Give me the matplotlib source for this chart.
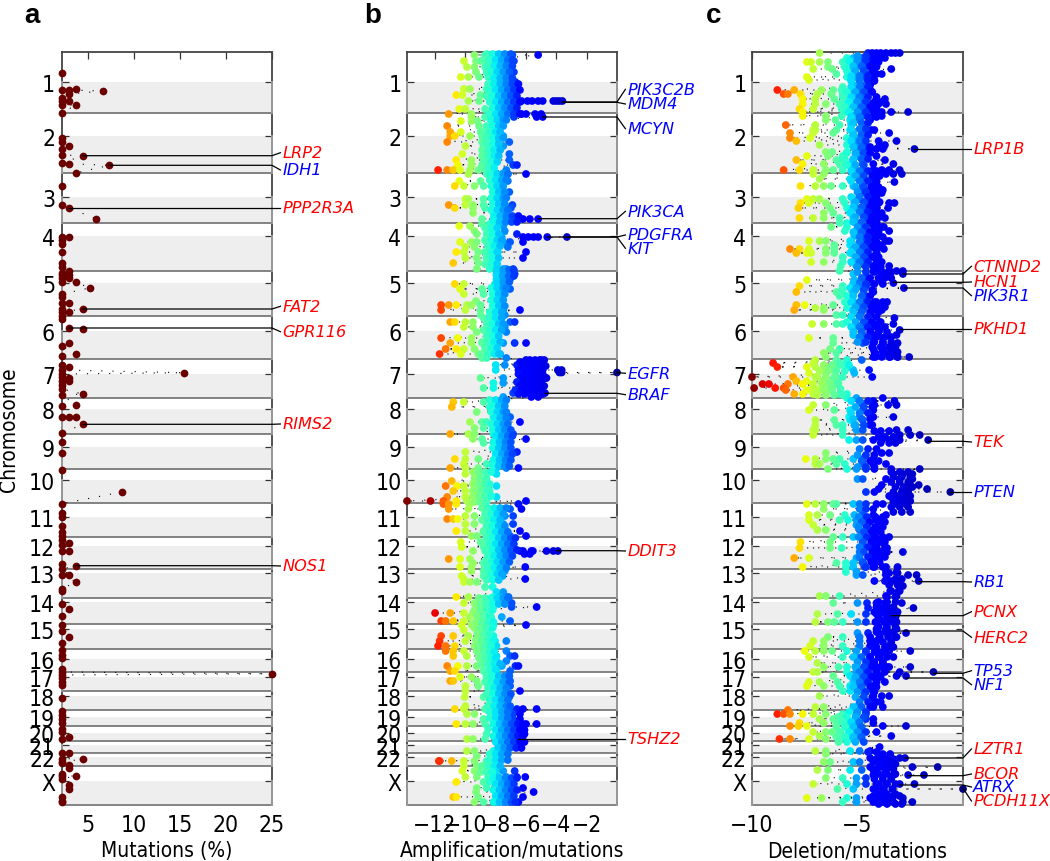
import matplotlib
matplotlib.use('Agg')
import matplotlib.pyplot as plt
import numpy as np

# chromosome layout, genome position on a scale running 53 to 806
chrom_labels = ['1', '2', '3', '4', '5', '6', '7', '8', '9', '10', '11', '12', '13', '14', '15',
                '16', '17', '18', '19', '20', '21', '22', 'X']
chrom_mid = [83, 137.3, 197.7, 237, 284, 332, 374.7, 410.3, 447.7, 480.7, 517.7, 546.7, 574.3,
             603.3, 629.7, 660, 678.3, 696.7, 718.3, 734, 745.7, 757.7, 781.7]
chrom_end = [114, 174.5, 224.3, 272.3, 317.3, 359.7, 399, 435.3, 470.3, 504.3, 537.7, 570.3, 599,
             625.3, 650.3, 672.7, 692.3, 711, 727, 742.3, 754.3, 766.7, 806]
pos_top, pos_bottom = 53, 806

# panel a: mutation frequency
mut_pos = [74, 91, 91, 90, 92, 95, 99, 102, 102, 106, 106, 114, 139, 143, 147, 150, 156, 156.7, 164, 164.7,
           166.3, 174, 187, 206, 209, 219.7, 238.3, 238.3, 241, 245, 253, 264, 268, 272, 274, 276, 276, 279,
           279, 283, 283, 289, 295, 298, 304, 304, 310, 310, 313, 313, 317, 320, 329, 330, 344, 347, 355,
           357, 366, 368, 371, 373.7, 375, 378, 379, 382, 382, 386, 390, 395, 396, 405.7, 407, 417.7, 417.7,
           417.7, 425.3, 434, 443, 454, 470.7, 493, 504.7, 514, 518, 527, 533, 537, 541, 544, 546, 552, 552,
           565, 566.7, 570, 575.7, 576, 582.7, 590, 592, 605, 609.7, 617, 625.7, 631.7, 637.7, 643.7, 651,
           656, 659, 670, 673, 674.7, 676, 679, 683, 686, 699, 712, 716, 720, 724, 730, 733, 737.7, 740,
           753.7, 754, 759.7, 760, 763, 764, 766, 769, 775, 777, 777, 779.7, 786, 790, 798, 802, 803]
mut_vals = [2.2, 2.2, 2.93, 3.7, 6.6, 2.93, 2.2, 2.2, 2.93, 2.2, 3.7, 2.2, 2.2, 2.2, 2.93, 2.2, 2.2, 4.46, 2.2, 2.93,
            7.35, 3.7, 2.2, 2.2, 2.93, 5.9, 2.2, 2.93, 2.2, 2.2, 2.2, 2.2, 2.2, 2.93, 2.2, 2.2, 2.93, 2.93,
            2.2, 2.2, 3.7, 5.2, 2.2, 2.2, 2.2, 2.93, 2.2, 4.46, 2.2, 2.93, 2.2, 2.2, 2.93, 4.46, 2.93, 2.2, 3.7,
            2.2, 2.2, 2.93, 2.2, 15.4, 2.2, 2.2, 2.93, 2.2, 2.93, 2.2, 2.2, 4.46, 2.2, 3.7, 2.2, 2.2, 2.93,
            3.7, 4.46, 2.2, 2.2, 2.2, 2.2, 8.7, 2.2, 2.2, 2.2, 2.2, 2.2, 2.2, 2.2, 2.93, 2.2, 2.2, 2.93,
            2.2, 3.7, 2.2, 2.93, 2.2, 3.7, 2.2, 2.2, 2.2, 2.93, 2.2, 2.2, 2.2, 2.93, 2.2, 2.2,
            2.2, 2.2, 2.2, 2.2, 25, 2.2, 2.2, 2.2, 2.2, 2.2, 2.2, 2.2, 2.2, 2.2, 2.2, 2.2, 2.93, 2.2,
            2.2, 2.93, 2.2, 4.46, 2.2, 2.2, 2.93, 2.93, 2.2, 2.2, 3.7, 2.2, 2.93, 2.93, 2.2, 2.2, 2.2]

# panel b: amplification/mutations, one list of values per genome position
amp_pos = [56, 62, 68, 73, 78, 83, 90, 96, 102, 110, 115, 118, 122, 127, 133, 137, 143, 147, 155, 161, 166, 171,
           175, 182, 187, 193, 200, 206, 209, 214, 220, 225, 227, 232, 235, 238, 243, 248, 253, 259, 264, 270,
           275, 280, 285, 290, 295, 302, 306, 311, 316, 323, 328, 333, 339, 344, 350, 355, 359, 361, 366, 371,
           373.5, 376, 379, 384, 389, 394, 398, 403, 408, 413, 418, 423, 429, 435, 440, 444, 453, 460, 465, 469,
           475, 482, 487, 492, 498, 502, 505, 510, 517, 520, 525, 532, 537, 543, 548, 552, 555, 560, 564, 568,
           572, 577, 580, 583, 588, 593, 598, 604, 608, 614, 618, 622, 626, 631, 637, 642, 647, 652, 657, 662,
           667, 672, 678, 682, 687, 692, 698, 707, 710, 715, 720, 725, 730, 735, 740, 745, 752, 757, 762, 767,
           772, 778, 783, 789, 793, 798, 803]
amp_vals = [
    [-9.4, -8.7, -8.3, -8, -7.7, -7.4, -7.1, -6.9, -5.2], [-10.1, -9.3, -9, -8.5, -8.1, -7.7, -7.4, -7, -6.8],
    [-9.9, -9.4, -8.7, -8.2, -7.9, -7.6, -7.2], [-9.3, -8.6, -8.1, -7.8, -7.4, -7.1, -6.8],
    [-10.3, -9.8, -9.1, -8.5, -8, -7.7, -7.4, -7], [-8.2, -8, -7.7, -7.4, -7, -6.7],
    [-10.1, -9.7, -8.6, -8.2, -7.9, -7.5, -7.2, -6.9, -6.5], [-10.6, -10.2, -9, -8.3, -8, -7.5, -7.1, -6.7],
    [-9.8, -9.1, -8.3, -7.5, -7.1, -6.6, -6.3, -5.9, -5.6, -5.2, -4.9, -4.2, -4, -3.8, -3.6],
    [-10.4, -10, -8.7, -8, -7.5, -6.9], [-11.1, -9.6, -8.3, -7.3, -6.9, -6.3, -6, -5.4, -5],
    [-9.6, -8.7, -8, -6.8, -5.3, -4.9], [-10.3, -9.6, -9.2, -8.3, -7.8], [-11.2, -9.1, -8.1, -7.6],
    [-11, -10.3, -9, -8], [-11, -10.7, -9.7, -8.9, -8, -7.5], [-11.2, -8.9, -8, -7.1], [-10, -8.8, -8.1, -7.5],
    [-10.2, -8.8, -8.05, -7.1], [-10.6, -9.6, -8.8, -7.95, -7.1], [-10.5, -9.6, -8.9, -8.15, -6.85, -6.6],
    [-11.8, -11.2, -10.8, -10.35, -9.7, -9.15, -8.6, -7.3], [-9.8, -8.6, -8.05, -7.6, -7.2, -6],
    [-10.4, -9, -8.15, -7.6, -7.2], [-10.7, -10.1, -9.4, -8.8, -8.15, -7.6], [-8.15, -7.7, -7.1],
    [-10, -9.8, -8.8, -7.95, -7.5], [-11.1, -10, -9.5, -8.8, -8.05, -7.5, -6.9],
    [-10.7, -9.5, -8.7, -8.15, -7.5, -7], [-9.5, -8.15, -7.4], [-8.9, -8.15, -7.3, -6.6, -6.2, -5.75, -5.2],
    [-8.9, -8.4, -7.6], [-10.4, -9.7, -8.5, -7.5], [-9.4, -8.4, -7.4], [-9.25, -8.15, -6.6],
    [-8.5, -7.6, -6.2, -5.85, -5.5, -5.2, -4.6, -3.3], [-10.35, -9.6, -9.25, -8.6, -8.05, -7.5, -7.05, -6.2],
    [-10, -9.4, -8.4, -7.95, -7.2], [-10.6, -10.1, -9.15, -8.4, -7.85, -6],
    [-10, -9.25, -8.5, -7.95, -6.2], [-10.8, -9.15, -8.5, -8.05], [-9.25, -8.4, -7.95, -7.5, -7.3, -6.85],
    [-7.95, -7.6, -7.05, -6.75], [-7.95, -7.5, -7.05], [-10.7, -10.1, -8.05, -7.5],
    [-10.35, -8.9, -8.05, -7.7, -7.05], [-10.1, -8.8, -7.95, -7.5], [-9.3, -8.05, -7.7],
    [-11.6, -11.1, -10.6, -9.9, -9.6, -9, -8.15], [-11.6, -10, -9, -8.15, -7.5, -6.4], [-9, -8.15, -7.4],
    [-11, -10.7, -10, -9.5, -7.95, -7.05, -6.75], [-10.1, -9.5, -8.15, -7.4], [-9.25, -7.95, -7.3],
    [-11.6, -10.5, -9.6, -7.95], [-11, -9.6, -8.9, -7.95, -7.5, -6.75, -6], [-11.3, -10.6, -10.1, -9.4, -8.6, -7.95],
    [-11.7, -10.3, -9.15, -8.6, -7.7], [-8.9, -8.6, -7.3], [-6, -5.75, -5.4, -5.1, -5, -4.8],
    [-8, -7.4, -6.6, -6.2, -5.85, -5.5, -5.2], [-8, -6.5, -6, -5.75, -5.4, -5.1, -3.9, -3.65], [-3.8, -3.65, 0],
    [-6, -5.75, -5.4, -5.1], [-9, -7.5, -6.3, -6, -5.6, -5.3, -4.9, -4.65], [-8.15, -7.5, -6.4, -6.1, -5.65, -5.3, -5],
    [-8.8, -8.15, -6.5, -6.2, -5.75, -5.4, -5.1], [-6.85, -6.5, -6.1, -5.65, -5.3, -4.75], [-7.5, -5.65, -5.2],
    [-10.8, -10.1, -8.8, -8.15, -7.7, -7.4], [-10.9, -8.4, -7.95, -7.5], [-9.25, -8.05, -7.4], [-8.15, -7.3, -7.05],
    [-9.7, -8.9, -8.6, -8.05, -7.5, -6.4], [-9.4, -8.8, -8.15, -7.7, -7.2], [-11, -9.8, -9.4, -8.15, -7.7, -7.3, -6.85],
    [-9.5, -8.9, -7.95, -7.4, -6], [-8.8, -8.15, -7.5, -7.2], [-10, -7.95, -7.6, -7.05, -6.6],
    [-10.7, -10, -9.15, -8.05, -7.5, -7.05], [-10.1, -8.6, -7.95, -7.5], [-11, -10, -9.15, -7.95, -7.3, -6.5],
    [-10, -9.25, -7.95], [-10.9, -9.4, -8.9], [-11.3, -10.55, -10.1, -9.4, -7.95], [-10.8, -10, -9.5, -8.4],
    [-11.2, -10, -9.15, -8.5, -7.95], [-13.85, -12.3, -11.45, -10.6, -9.9, -9.25, -6],
    [-11.45, -11.1, -10.6, -9.7, -8.8, -6.5], [-11.1, -9.8, -8.6, -7.95, -7.05, -6.3],
    [-10, -9.4, -8.7, -8.05, -7.4, -6.85], [-11.2, -10.8, -10.5, -8.8, -7.95], [-10, -9.4, -8.6, -8.05, -7.5, -6.85],
    [-10.6, -10, -8.8, -7.95, -7.3, -6.4], [-9.6, -9.25, -8.6, -7.85, -7.05, -6],
    [-10.3, -9, -8.5, -7.7, -7.05], [-10.25, -8.8, -8.15, -7.4, -6.95],
    [-9.5, -8.7, -7.95, -7.3, -6.4, -6.2, -5.65, -5.55, -4.65, -4.2, -3.9], [-8.4, -7.7, -7.05, -6.1, -5.75],
    [-11.1, -10.35, -9.7, -8.6, -7.85, -7.3], [-9.5, -8.8, -7.95], [-10.35, -9.6, -8.7, -7.95, -7.4, -6.05],
    [-9.6, -8.8, -7.7, -7.4], [-10.25, -8.8, -8.4, -7.55], [-6.05, -10.1], [-10.1, -9.7, -9.25],
    [-8.7, -8.2], [-7.95, -7.5], [-10.6, -9.8, -8.15, -7.7, -7.3, -7.15], [-10.1, -9.4, -8.7, -8.05, -7.4, -6.95],
    [-9.25, -8.8, -8.15, -6.95, -5.3], [-12, -11, -10.1, -9.5, -8.9, -8.4], [-9.7, -8.9, -8.3, -7.6],
    [-11.6, -11.3, -10.8, -10.1, -8.8, -7.05], [-10.25, -9.6, -8.8, -8.15, -6], [-10.1, -9.25, -8.7],
    [-11.6, -10.8, -9.8, -8.9, -8.15], [-11.7, -10, -9.25, -8.6, -8.05, -7.3], [-11.8, -11.3, -10.7, -9.4, -8.5, -7.95],
    [-11.3, -10.8, -10.1, -9.25, -8.6, -7.3], [-10.8, -9.9, -8.8, -7.95, -7.05, -6.75], [-8.7, -7.95, -7.3],
    [-11.2, -10.5, -9.9, -9.25, -8.15, -7.6, -6.7, -6.5], [-11, -10.7, -8.8, -7.95, -7.05],
    [-10.35, -9.6, -8.6, -7.95], [-11, -10.8, -9.25, -8.6, -7.85, -7.05], [-10, -9.15, -7.85, -7.05],
    [-10, -7.6, -6.4], [-10.05, -8.8, -7.7, -7.1], [-10, -8.4, -7.95], [-10.7, -10.1, -8.7, -7.95, -7.05, -6.6, -6.2, -5.3],
    [-9.9, -9.4, -8.05, -7.3, -6.85, -6.4], [-8.8, -7.95, -7.3, -6.85, -6.4],
    [-10.6, -10, -9.5, -8.7, -7.95, -7.05, -6.5, -6, -5.3], [-8.5, -7.85, -7.3, -6.85, -6.4],
    [-8.6, -7.5, -7.05, -6.6, -6.1], [-9.9, -9.5, -8.7, -7.95, -7.05, -6.4], [-7.05, -6.7],
    [-9.9, -9.4, -8.15, -7.7, -7.3], [-9.25, -7.95], [-11.75, -11.7, -10.9, -10.1, -9.4, -8.6, -7.95],
    [-10.1, -9.25, -8.6], [-10.2, -9.4, -8.6, -7.95, -7.5, -6.75], [-10, -9.25, -8.5, -7.85, -7.3, -6.6, -6.05],
    [-10.6, -8.8, -8.4, -7.3, -6.85], [-9.25, -8.6, -7.85, -7.2, -6.2], [-9.3, -7.7, -6.85, -5.5],
    [-10.8, -10.6, -9.15, -7.95, -7.4, -6.85, -6.2], [-9.4, -8.8, -7.95, -7.5, -7.05, -6.5]]

# the crowded middle of panel b
amp_core_pos = [55, 61, 67, 73, 79, 85, 91, 97, 103, 109, 115, 121, 127, 133, 139, 145, 151, 157, 163, 169, 175, 181,
                187, 193, 199, 205, 211, 217, 223, 229, 235, 241, 247, 253, 259, 265, 271, 277, 283, 289, 295, 301,
                307, 313, 319, 325, 331, 337, 343, 349, 355, 363, 367, 371, 375, 379, 383, 387, 391, 395, 401, 407,
                413, 419, 425, 431, 437, 443, 449, 455, 461, 467, 473, 479, 485, 491, 497, 503, 509, 515, 521, 527,
                533, 539, 545, 551, 557, 563, 569, 575, 581, 599, 605, 611, 617, 623, 629, 635, 641, 647, 653, 659,
                665, 671, 677, 683, 689, 695, 701, 707, 713, 719, 725, 731, 737, 743, 749, 755, 761, 767, 773, 779,
                785, 791, 797, 803]
amp_core_vals = [
    [-8.6, -8.2, -7.8, -7.4, -7], [-8.8, -8.4, -8, -7.6, -7.2, -6.9], [-8.5, -8.1, -7.7, -7.3, -6.9], [-8.3, -7.9, -7.5, -7.1],
    [-8.1, -7.7, -7.3, -6.9], [-8.5, -8.1, -7.7, -7.3, -6.9, -6.5], [-8.4, -8, -7.6, -7.2, -6.8, -6.4],
    [-8.6, -8.2, -7.8, -7.4, -7, -6.6], [-8.4, -8, -7.6, -7.2, -6.8, -6.4], [-8.2, -7.8, -7.4, -7, -6.6],
    [-8.4, -8, -7.6, -7.2, -6.8, -6.4], [-8.3, -7.9, -7.5, -7.3], [-8.6, -8.2, -7.8, -7.5], [-8.8, -8.4, -8, -7.7],
    [-8.6, -8.2, -7.8, -7.5], [-8.6, -8.2, -7.8], [-8.9, -8.5, -8.1, -7.7], [-8.9, -8.5, -8.1, -7.8], [-8.7, -8.3, -7.9],
    [-8.9, -8.5, -8.1], [-8.3, -7.9, -7.5, -7.2], [-8.4, -8, -7.6, -7.3], [-8.3, -7.9, -7.5], [-8.2, -7.8, -7.4],
    [-8.3, -7.9, -7.5, -7.3], [-8.2, -7.8, -7.4], [-8.3, -7.9, -7.5, -7.2], [-8.1, -7.7, -7.3, -6.9, -6.5],
    [-8.15, -7.75, -7.35, -6.95, -6.6], [-8.7, -8.3, -7.9], [-8.6, -8.2, -7.8], [-8.7, -8.3, -7.9, -7.6], [-8.5, -8.1, -7.7],
    [-8.7, -8.3, -7.9], [-8.6, -8.2, -7.8], [-8.7, -8.3, -7.9], [-7.9, -7.5, -7.1, -6.8], [-7.95, -7.55, -7.15, -6.8],
    [-7.9, -7.5, -7.1], [-8.3, -7.9, -7.5, -7.3], [-8.2, -7.8, -7.4], [-8.3, -7.9, -7.5], [-8.2, -7.8, -7.4], [-8.4, -8, -7.6],
    [-8.8, -8.4, -8, -7.6], [-8.6, -8.2, -7.8, -7.5], [-8.8, -8.4, -8, -7.6], [-8.6, -8.2, -7.8], [-8.9, -8.5, -8.1, -7.7],
    [-8.7, -8.3, -7.9], [-8.9, -8.5, -8.1, -7.8], [-6.4, -6, -5.6, -5.2, -4.9], [-6.2, -5.8, -5.4, -5, -4.7],
    [-6.4, -6, -5.6, -5.2, -4.9], [-6.5, -6.1, -5.7, -5.3, -4.9], [-6.3, -5.9, -5.5, -5.1, -4.7], [-6.6, -6.2, -5.8, -5.4, -5],
    [-6.4, -6, -5.6, -5.2, -4.8], [-6.7, -6.3, -5.9, -5.5, -5.1], [-6.5, -6.1, -5.7, -5.3, -4.9], [-8.4, -8, -7.6, -7.3],
    [-8.2, -7.8, -7.4], [-8.3, -7.9, -7.5, -7.3], [-8.1, -7.7, -7.3], [-8.3, -7.9, -7.5, -7.2], [-8.2, -7.8, -7.4, -7],
    [-8, -7.6, -7.2, -6.9], [-8.15, -7.75, -7.35, -7], [-8.2, -7.8, -7.4, -7], [-8, -7.6, -7.2, -6.9], [-8.15, -7.75, -7.35, -7],
    [-8.2, -7.8, -7.4, -7.1], [-9.5, -9.1, -8.7, -8.3], [-9.4, -9, -8.6], [-9.5, -9.1, -8.7, -8.4], [-9.3, -8.9, -8.5],
    [-9.5, -9.1, -8.7, -8.3], [-9.4, -9, -8.6], [-8.9, -8.5, -8.1, -7.7, -7.3], [-8.7, -8.3, -7.9, -7.5], [-8.9, -8.5, -8.1, -7.7],
    [-8.6, -8.2, -7.8, -7.4], [-8.8, -8.4, -8, -7.6, -7.2], [-8.6, -8.2, -7.8, -7.4, -7, -6.7], [-8.8, -8.4, -8, -7.6, -7.2, -6.8],
    [-8.6, -8.2, -7.8, -7.4, -7, -6.6], [-8.5, -8.1, -7.7, -7.3, -6.9], [-8.7, -8.3, -7.9, -7.5, -7.1], [-8.5, -8.1, -7.7, -7.3],
    [-8.7, -8.3, -7.9, -7.6], [-8.6, -8.2, -7.8], [-9.1, -8.7, -8.3, -7.9, -7.5, -7.2], [-9, -8.6, -8.2, -7.8, -7.4],
    [-9.4, -9, -8.6, -8.2], [-9.2, -8.8, -8.4], [-9.3, -8.9, -8.5, -8.15], [-9.4, -9, -8.6, -8.2], [-9.2, -8.8, -8.4],
    [-9.3, -8.9, -8.5, -8.15], [-9.1, -8.7, -8.3], [-9.2, -8.8, -8.4, -8.1], [-9.1, -8.7, -8.3, -8], [-8.9, -8.5, -8.1, -7.7],
    [-8.8, -8.4, -8], [-8.6, -8.2, -7.8, -7.4, -7.1], [-8.7, -8.3, -7.9, -7.5, -7.1], [-8.5, -8.1, -7.7, -7.3],
    [-8.6, -8.2, -7.8, -7.4, -7], [-8.4, -8, -7.6, -7.2], [-8.5, -8.1, -7.7, -7.3, -7.05], [-8.4, -8, -7.6, -7.2],
    [-8.4, -8, -7.6, -7.2], [-8.15, -7.75, -7.35, -6.95, -6.55, -6.2], [-8, -7.6, -7.2, -6.8, -6.4, -6.1],
    [-8.15, -7.75, -7.35, -6.95, -6.55, -6.2], [-8, -7.6, -7.2, -6.8, -6.4, -6.1], [-7.85, -7.45, -7.05, -6.65, -6.3],
    [-8.4, -8, -7.6, -7.2], [-8.4, -8, -7.6, -7.2], [-8.9, -8.5, -8.1, -7.7], [-9, -8.6, -8.2], [-8.15, -7.75, -7.35, -6.95, -6.6],
    [-8, -7.6, -7.2, -6.8], [-8.15, -7.75, -7.35, -6.95, -6.6], [-8, -7.6, -7.2, -6.8], [-8.15, -7.75, -7.35, -6.95, -6.7]]

# panel c: deletion/mutations
del_pos = [54, 59, 63, 68, 70, 75, 78, 81, 86, 91, 95, 100, 105, 110, 113, 117, 121, 126, 131, 134, 139, 142, 146, 150,
           153, 157, 161, 165, 171, 175, 180, 183, 187, 191, 194, 200, 204, 209, 214, 219, 224, 228, 232, 237, 242,
           246, 250, 254, 258, 263, 267, 272, 275, 278, 281, 284, 287, 289, 293, 297, 303, 306, 309, 311, 316, 319,
           325, 329, 331, 336, 339, 344, 350, 354, 358, 361, 364, 368, 371, 374, 378, 382, 385, 389, 391, 395, 399,
           402, 406, 411, 418, 421, 426, 431, 436, 441, 454, 460, 465, 470, 475, 480, 486, 490, 493, 497, 502, 505,
           510, 516, 521, 526, 531, 538, 543, 549, 553, 559, 564, 568, 573, 576, 582, 587, 592, 597, 604, 609, 615,
           620, 623, 630, 634, 638, 642, 647, 652, 658, 664, 668, 673, 677, 683, 687, 692, 697, 703, 708, 711, 715,
           720, 724, 727, 733, 737, 740, 748, 752, 755, 759, 763, 768, 771, 776, 779, 785, 790, 797, 799, 803]
del_vals = [
    [-6.8, -4.5, -4.3, -4.1, -3.9, -3.65, -3.4, -3.2, -3], [-5.5, -5.2, -4.8, -4.5, -4.2, -3.9, -3.7],
    [-7.4, -7.2, -6.8, -6.4, -5.7, -5.35, -5, -4.7, -4.4, -4], [-6.4, -5.6, -5, -4.6, -4.1],
    [-7.1, -6.2, -5.5, -5.2, -4.7, -4.3, -3.4], [-6, -5.05, -4.6, -4.1, -3.85], [-7.4, -5.5, -5.1, -4.7, -4.3],
    [-7.3, -5.3, -4.9, -4.5, -4.2], [-5.2, -4.8, -4.4], [-8.8, -8, -6.7, -6.15, -5.75, -5.2, -4.75, -4.4],
    [-8.5, -8.3, -7.7, -6.9, -6.25, -5.7, -5.15, -4.85], [-7.6, -7, -6.1, -5.6, -5.15, -4.75, -3.7],
    [-7.6, -7, -6.5, -5.85, -5.5, -5.05, -4.65, -4.35, -4, -3.65], [-7.75, -7.1, -5.75, -5.35, -4.9, -4.4, -4.1],
    [-7.6, -5.5, -4.9, -3.85, -3.4, -2.6], [-7.6, -6.5, -5.75, -5.2, -4.75, -4.25, -3.85],
    [-6.5, -6.05, -5.35, -4.9, -4.4], [-8.4, -7, -5.85, -5.3, -4.75], [-7.1, -7, -6, -5.35, -4.75, -4.35, -4.2],
    [-8.2, -7.1, -6.15, -5.2, -4.65, -3.5], [-8.2, -7.25, -5.5, -5.05, -4.65], [-7.9, -5.1, -4.75, -4, -3.15],
    [-6.8, -5.5, -5.05, -4.65, -3.95, -3.7], [-2.3, -5.05, -4.6, -4.1, -3.8], [-6.5, -6.2, -5.5, -4.9, -4.5],
    [-7.4, -6.4, -5.7, -5.05, -4.6, -4.1], [-7.9, -6, -5.7, -5.2, -4.75, -3.7], [-7.6, -6.6, -5.85, -5.35, -4.75, -4.25, -3.3],
    [-8.5, -7.75, -7.1, -6.5, -6.15, -5.7, -5.2, -4.75, -4.25, -3.85, -3.5, -3],
    [-7.1, -6.6, -5.2, -4.75, -4.25, -3.95, -3.65, -3.3, -2.9], [-6.8, -5.35, -4.75, -4.25], [-4.1, -3.25],
    [-7.7, -7, -6.6, -6.25, -5.7, -5.2, -4.75, -4.35, -4.1], [-4.75, -4.4, -4.1, -3.8], [-4.75, -4.25, -3.85],
    [-7.4, -7.1, -6.8, -5.7, -5.2, -4.9, -4.4], [-7.7, -7.3, -6.5, -5.6, -5.15, -4.6, -4, -3.5, -3.25],
    [-7.8, -6.3, -5.5, -5.05, -4.6, -4.1, -3.55], [-6.15, -6.6, -5.35, -4.75, -4.25, -3.85],
    [-7.75, -7.1, -6.6, -5.85, -5.2, -4.6, -3.7], [-5.85, -5.5, -5.05, -4.4, -4.1], [-6.25, -5.5, -4.75, -4.2, -3.75],
    [-5.6, -5.05, -4.6, -4.1, -3.5], [-5.15, -4.65, -4.35, -4.05], [-7.3, -6.8, -6.5, -5.35, -4.75, -4.35, -3.65, -3.5],
    [-6.1, -5.35, -4.9, -4.6, -4.1, -3.85], [-8.2, -7.75, -7.3, -6.5, -6.1, -5.2, -4.75, -3.75],
    [-7.9, -7.4, -7.2, -6.5, -6.1, -5.35, -4.75, -4.1], [-5.7, -5.05, -4.6, -4.1], [-7.2, -6.6, -5.7, -5.15, -4.75, -3.85],
    [-5.8, -5.05, -4.6, -4.25, -3.5], [-5.85, -4.25, -3.95, -3.5, -3.15, -2.85], [-5.2, -3.85, -3.65, -2.85], [-4.6, -3.8],
    [-7.4, -5.15, -4.45, -3.95], [-5.2, -4.9, -4.5, -3.3], [-7.75, -5.7, -5.2, -4.9, -4.6], [-5.7, -5.35, -5.05, -2.8],
    [-7.9, -6, -5.7, -5.2, -4.25], [-5.85, -5.5, -4.6], [-5.6, -5.2, -4.6, -4.1, -3.8, -3.6], [-7.9, -7.5, -6.15, -4.9, -4.4],
    [-7, -6.6, -5.5, -4.9, -4.25], [-8, -6.6, -5.2, -4.75, -4.25, -3.85], [-6, -5.7, -4.9, -4.4], [-3.25],
    [-7.15, -6.6, -6, -5.7, -5.05, -4.4, -4, -3.3], [-5.15, -4.75, -4.35], [-3, -3.95], [-5.2, -4.75, -4.25, -3.15],
    [-7.3, -6.15, -4.9, -4.25, -3.8], [-6.15, -4.75, -4.25, -3.8, -3.1], [-6.3, -5.85, -4.25, -3.8],
    [-6.6, -6, -4.15, -3.7, -3.3], [-6.5, -4.15, -3.5, -3.1, -2.55], [-7, -6, -5.5, -4.8], [-9, -7.1, -5.85, -5.5],
    [-8.8, -7.4, -7, -6.5, -6, -5.45], [-6.6, -6.15, -5.2, -4.45], [-7.3, -6.5, -5.15], [-10, -8.05, -7, -6.5, -6, -4.3],
    [-7.9, -7.4, -6.6, -6.15], [-9.5, -9.2, -8.3, -7.6, -7.1, -6.5, -6], [-9.9, -8.9, -8.5, -7.1], [-8.4, -7.4, -6.8, -6.3],
    [-8, -7.6, -7.1, -6.5, -5.85, -5.5], [-5.5, -5.05, -3.8], [-4.9, -4.25, -3.25], [-7.1, -6.5, -4.75, -4.2, -3.55, -3.15],
    [-7.3, -6.1, -5.35, -4.75, -4.25], [-5.4, -4.9, -4.25, -3.3], [-7, -6.1, -5.35, -4.75], [-7, -6, -5.7, -5.15, -4.4],
    [-7.1, -7, -5.7, -5.05, -4.75, -3.15, -2.6], [-7.1, -5.7, -3, -2.5, -2.05], [-5.4, -5.05, -4.75, -4.25, -3.85, -3.5, -3, -1.65],
    [-6.5, -3.85, -3.5], [-7.45, -7, -6.5, -6.15, -5.85, -5.2, -4.75, -4.25], [-7, -6.8, -6, -5.6, -4.75, -4.25, -3.65],
    [-6.4, -5.5, -5.05, -4.6, -4.2, -3.4, -2.05], [-3.3, -2.85, -2.4], [-5, -4.75, -3.65, -3, -2.4], [-3.85, -2.5, -2.1],
    [-4, -2.85, -2.6, -1.7], [-4.6, -4.2, -2.7, -0.6], [-3.5, -3.15, -2.85, -2.5], [-3.3, -3, -2.5],
    [-7.4, -7, -6.6, -6.15, -6, -5.2, -4.9, -4.6, -4.1, -3.8, -3.15, -2.7], [-6.6, -4.9, -4.6, -4.25],
    [-7.3, -6.9, -6.3, -5.6, -5.15, -4.75, -4.25, -3.65], [-7.3, -5.85, -5.45, -5.05, -4.6, -4.1], [-7.1, -5.05, -4.6],
    [-6.9, -6.5, -4.9, -4.4, -4.1], [-6.15, -5.7, -5.2, -4.75, -4.25, -3.5], [-7.7, -6.3, -4.75, -4.25, -3.85],
    [-7.75, -6.3, -5.75, -4.75, -4.25, -3.6], [-4.9, -4.25, -3.6, -2.85], [-8, -7.3, -5.05, -4.25, -3.95],
    [-6, -5.55, -5.2, -4.75, -4.25], [-7.6, -5.55, -5.2, -4.65, -4.25, -3.65, -3.1], [-5.55, -5.05, -3.65, -3.15],
    [-5.05, -4.75, -3.65, -2.6, -2.2], [-4.2, -3.7, -3.35, -3.1, -2.1], [-2.85], [-3.45, -3], [-6.8, -6.5, -5.85, -3.65, -3.15],
    [-6.15, -5, -4.55, -4.1, -3.7, -2.9], [-4.5, -3.95, -3.5, -2.35], [-6.9, -5.95, -5.3, -4.6, -4.1, -3.65, -3.15],
    [-3.95, -3.5], [-7, -6.4, -6.1, -5.7, -5, -4.6, -4.1, -3.65, -3.15], [-4.1, -3.65, -3.15],
    [-5, -4.5, -4, -3.5, -2.7], [-6.4, -5.7, -4.9, -4.4, -3.95, -3.15], [-7.1, -6.6, -4.9, -4.4, -4.1],
    [-7.25, -6.6, -5.7, -4.9, -4.4, -3.5], [-7.5, -7, -6.6, -6.2, -5.5, -5.05, -4.6, -4.1, -3.5, -2.5],
    [-7.3, -5.7, -5.05, -4.4, -3.95, -3.3], [-6.9, -4.4, -3.8], [-6.6, -5.9, -5.5, -5.05, -4.6, -4.1, -3.5, -2.5],
    [-7.1, -6.9, -5.5, -5.05, -4.6, -4.1, -1.4, -3], [-6.15, -5.35, -4.9, -4.4, -3.95, -3.15, -2.7],
    [-7.3, -6.8, -5.95, -5.2, -4.65, -4.1], [-7.4, -6.6, -5.85, -5.35, -4.9, -4.25], [-5.7, -5.35, -4.75, -4.25],
    [-6.8, -4.25, -3.85, -3.5], [-4.25, -3.9], [-7, -6.6, -5.05, -4.25, -3.8], [-8.3],
    [-8.8, -8.5, -8.2, -7.6, -7.1, -6.5, -5.7, -5.05, -4.6], [-6.8, -6.15, -5.5, -5.05, -4.6, -4.25],
    [-7.75, -6.6, -6, -5.5, -5.05, -4.25], [-8.2, -7.8, -7.4, -5.45, -4.9, -3.8, -2.7],
    [-7.1, -6.5, -6, -5.35, -4.75, -4.1], [-6.8, -6, -5.5, -4.9, -3.4], [-8.7, -8.2, -7.3, -6.5, -5.85, -5.2],
    [-3.95], [-7, -6.5, -5.35, -4.9, -4.4], [-6.5, -3.8, -3.45], [-4.4, -3.95, -3.5, -3, -2.75],
    [-6.6, -6.3, -5.2, -4.9, -4.25, -3.8, -3.3], [-4.4, -3.95, -3.5, -2.4, -1.2], [-6.9, -6.4, -5.35, -4.8, -4.25, -3.65],
    [-4.25, -3.8, -3.3, -2.6, -1.85], [-6.5, -5.7, -5.05, -4.6], [-7.1, -5.5, -5.05, -4.6, -4.1, -3.65, -3, -2.3],
    [-5.95, -5.2, -4.25, -3.8, 0], [-4.25, -3.8, -3.3, -3], [-7.4, -6.7, -5.5, -5.05, -4.4, -3.95, -3.5, -2.85],
    [-5.7, -5.05, -4.25, -3.8, -3.3, -2.85, -2.4]]

# the crowded middle of panel c
del_core_pos = [57, 62, 67, 72, 77, 82, 88, 93, 98, 103, 108, 113, 118, 124, 130, 136, 142, 148, 154, 160, 166, 172,
                177, 182, 188, 193, 198, 203, 208, 213, 218, 223, 228, 233, 238, 243, 248, 253, 258, 263, 268, 273,
                279, 285, 291, 297, 303, 308, 313, 318, 323, 328, 333, 338, 343, 348, 353, 358, 366, 372, 378, 384,
                390, 396, 402, 408, 414, 420, 426, 432, 438, 444, 450, 456, 462, 468, 473, 478, 483, 488, 493, 498,
                503, 508, 513, 518, 523, 528, 533, 538, 543, 548, 553, 558, 563, 568, 574, 580, 586, 592, 598, 603,
                608, 613, 618, 623, 628, 633, 638, 643, 648, 653, 658, 663, 668, 673, 678, 683, 688, 693, 698, 703,
                708, 713, 718, 723, 728, 733, 738, 743, 753, 760, 765, 770, 775, 780, 785, 790, 795, 800, 805]
del_core_vals = [
    [-5, -4.6, -4.2], [-5.4, -5, -4.6, -4.2], [-5.2, -4.8, -4.4, -4.1], [-5.5, -5.1, -4.7, -4.3], [-5.3, -4.9, -4.5],
    [-5.3, -4.9, -4.5, -4.2], [-5.7, -5.3, -4.9, -4.5], [-5.5, -5.1, -4.7, -4.3], [-5.7, -5.3, -4.9, -4.5, -4.1],
    [-5.4, -5, -4.6, -4.2, -3.9], [-5.6, -5.2, -4.8, -4.4], [-5.4, -5, -4.6, -4.2], [-5.3, -4.9, -4.5, -4.1],
    [-5.2, -4.8, -4.5], [-5.3, -4.9, -4.6], [-5.2, -4.8, -4.5], [-5.3, -4.9, -4.6], [-5.2, -4.8, -4.4], [-5.5, -5.1, -4.7, -4.4],
    [-5.6, -5.2, -4.8, -4.5], [-5.5, -5.1, -4.7], [-5.3, -4.9, -4.5, -4.1, -3.8], [-5.1, -4.7, -4.3, -3.95], [-5.3, -4.9, -4.5, -4.1],
    [-5.1, -4.7, -4.3, -4], [-5, -4.6, -4.2, -3.9], [-5.3, -4.9, -4.5, -4.1], [-5.1, -4.7, -4.3, -3.95], [-5.2, -4.8, -4.4, -4.1],
    [-5.3, -4.9, -4.5, -4.1], [-5.1, -4.7, -4.3, -3.95], [-5.2, -4.8, -4.4, -4.1], [-5, -4.6, -4.2, -3.85], [-5.2, -4.8, -4.4, -4],
    [-4.9, -4.5, -4.1, -3.8], [-5.3, -4.9, -4.5, -4.1], [-5.1, -4.7, -4.3, -3.95], [-5.3, -4.9, -4.5, -4.1], [-5.1, -4.7, -4.3, -4],
    [-5.3, -4.9, -4.5, -4.1], [-5, -4.6, -4.2, -3.9], [-5, -4.6, -4.2, -3.8, -3.4], [-4.8, -4.4, -4, -3.7, -3.4], [-4.6, -4.2, -3.8],
    [-5.1, -4.7, -4.3], [-5.2, -4.8, -4.4], [-5.3, -4.9, -4.5, -4.2], [-5.1, -4.7, -4.3, -3.95, -3.7], [-5.2, -4.8, -4.4, -4],
    [-5.3, -4.9, -4.5, -4.1], [-5.5, -5.1, -4.7, -4.3, -3.9], [-5.3, -4.9, -4.5, -4.1, -3.7], [-5.2, -4.8, -4.4, -4, -3.6],
    [-4.9, -4.5, -4.1, -3.7, -3.4], [-5, -4.6, -4.2, -3.8, -3.4], [-4.3, -3.9, -3.5, -3.2], [-4.2, -3.8, -3.4, -3.1], [-4.25, -3.85, -3.45, -3.1],
    [-6.6, -6.2, -5.8, -5.4], [-6.8, -6.4, -6, -5.6], [-6.9, -6.5, -6.1, -5.7], [-6.7, -6.3, -5.9], [-7, -6.6, -6.2, -5.8],
    [-6.9, -6.5, -6.1, -5.7], [-5.3, -4.9, -4.5], [-5.1, -4.7, -4.3], [-5.3, -4.9, -4.5], [-5.2, -4.8, -4.4], [-5.1, -4.7, -4.3],
    [-4.2, -3.9, -3.5], [-4, -3.7, -3.3], [-3.9, -3.5, -3.2], [-4.9, -4.5, -4.1], [-5, -4.6, -4.2], [-4.8, -4.4, -4], [-5, -4.6, -4.2],
    [-3.4, -3, -2.6], [-3.3, -2.9, -2.5], [-3.4, -3, -2.6], [-3.2, -2.8, -2.4], [-3.3, -2.9, -2.6], [-3.4, -3, -2.7], [-3.2, -2.9],
    [-3.4, -3, -2.6], [-3.3, -2.9, -2.5], [-4.95, -4.55, -4.15, -3.8], [-4.8, -4.4, -4, -3.7], [-4.95, -4.55, -4.15, -3.8],
    [-4.7, -4.3, -3.9], [-4.95, -4.55, -4.15, -3.8], [-4.75, -4.35, -3.95, -3.7], [-4.9, -4.5, -4.1, -3.7], [-4.7, -4.3, -3.9],
    [-4.9, -4.5, -4.1, -3.7], [-4.75, -4.35, -3.95], [-4.6, -4.2, -3.8], [-3.5, -3.1], [-3.6, -3.2, -2.9], [-3.5, -3.1], [-3.4, -3.05],
    [-3.6, -3.2], [-4, -3.6, -3.2], [-4.1, -3.7, -3.3], [-4.2, -3.8, -3.4, -3.1], [-4, -3.6, -3.2], [-4.15, -3.75, -3.35], [-4, -3.6, -3.2],
    [-4.1, -3.7, -3.3], [-3.95, -3.55, -3.2], [-4.2, -3.8, -3.4], [-4.1, -3.7, -3.3], [-4.6, -4.2, -3.8], [-5.2, -4.8, -4.4, -4, -3.6],
    [-5, -4.6, -4.2, -3.8], [-5.1, -4.7, -4.3, -3.9, -3.6], [-4.9, -4.5, -4.1, -3.7], [-5.1, -4.7, -4.3, -3.9], [-4.9, -4.5, -4.1, -3.7],
    [-5.2, -4.8, -4.4, -4.1], [-5, -4.6, -4.2], [-5.1, -4.7, -4.3], [-4.9, -4.5, -4.1], [-5.2, -4.8, -4.4], [-5.4, -5, -4.6],
    [-5.9, -5.5, -5.1, -4.7], [-5.7, -5.3, -4.9], [-6, -5.6, -5.2, -4.8], [-6.2, -5.8, -5.4, -5, -4.6], [-6, -5.6, -5.2, -4.8],
    [-5.9, -5.5, -5.1, -4.7], [-4.5, -4.1], [-4.1, -3.7, -3.3], [-3.95, -3.55, -3.2],
    [-4.1, -3.7, -3.3], [-4, -3.6, -3.2], [-4.2, -3.8, -3.4], [-4, -3.6, -3.2], [-4.15, -3.75, -3.35], [-4, -3.6, -3.2], [-4.2, -3.8, -3.4],
    [-4, -3.6, -3.2, -2.9]]

# genes: name, colour, value, position, where the name sits
genes_a = [('LRP2', 'red', 4.46, 156.7, 153.7), ('IDH1', 'blue', 7.35, 166.3, 171),
           ('PPP2R3A', 'red', 2.93, 209, 209), ('FAT2', 'red', 4.46, 310, 307.3),
           ('GPR116', 'red', 2.93, 329, 332.7), ('RIMS2', 'red', 4.46, 425.3, 425),
           ('NOS1', 'red', 3.7, 566.7, 567)]
genes_b = [('PIK3C2B', 'blue', -3.6, 103, 90.3), ('MDM4', 'blue', -3.6, 103.3, 105),
           ('MCYN', 'blue', -4.9, 118, 129.7), ('PIK3CA', 'blue', -5.2, 219.7, 212.3),
           ('PDGFRA', 'blue', -3.3, 238, 236), ('KIT', 'blue', -4.6, 238, 249.3),
           ('EGFR', 'blue', 0, 373.5, 374.3), ('BRAF', 'blue', -4.75, 394.3, 395.7),
           ('DDIT3', 'red', -4, 551.7, 552), ('TSHZ2', 'red', -6.5, 740, 740)]
genes_c = [('LRP1B', 'red', -2.3, 150, 150), ('CTNND2', 'red', -2.85, 275, 267.3),
           ('HCN1', 'red', -3.3, 283.3, 283), ('PIK3R1', 'blue', -2.75, 289, 296.7),
           ('PKHD1', 'red', -3, 330, 330), ('TEK', 'red', -1.65, 442.3, 443),
           ('PTEN', 'blue', -0.6, 493, 493), ('RB1', 'blue', -2.1, 582.7, 583),
           ('PCNX', 'red', -3.4, 616.7, 612.7), ('HERC2', 'red', -3, 632, 638.3),
           ('TP53', 'blue', -1.4, 674.3, 671.7), ('NF1', 'blue', -2.7, 679, 685.7),
           ('LZTR1', 'red', -2.75, 759, 750), ('BCOR', 'red', -2.6, 776.7, 775),
           ('ATRX', 'blue', -3, 786, 788), ('PCDH11X', 'red', 0, 789.3, 802)]


def flatten(pos, vals):
    ys = np.concatenate([[p] * len(v) for p, v in zip(pos, vals)])
    xs = np.concatenate([v for _, v in zip(pos, vals)])
    return xs.astype(float), ys.astype(float)


def draw_panel(ax, xs, ys, colors, xlim, xticks, genes, xlabel, label_gap):
    ax.set_xlim(*xlim)
    ax.set_ylim(pos_bottom, pos_top)
    edge = ax.get_yaxis_transform()
    for mid, end in zip(chrom_mid, chrom_end):
        ax.axhspan(mid, end, color='#eeeeee', lw=0, zorder=0.5)
        ax.plot([0, 1], [end, end], transform=edge, color='#6e6e6e', lw=1.2, zorder=1, clip_on=False)
        # frame looks lighter where it runs along a grey band
        ax.plot([0, 0], [mid, end], transform=edge, color='#999999', lw=1.4, zorder=2.6, clip_on=False)
        ax.plot([1, 1], [mid, end], transform=edge, color='#999999', lw=1.4, zorder=2.6, clip_on=False)

    # dotted trail along the genome, broken over long empty stretches
    order = np.argsort(ys, kind='stable')
    trail_x, trail_y = xs[order], ys[order]
    breaks = np.where(np.diff(trail_y) > 12)[0] + 1
    ax.plot(np.insert(trail_x, breaks, np.nan), np.insert(trail_y, breaks, np.nan), color='black', lw=0.8,
            ls=(0, (1, 9)), zorder=1.5, clip_on=False)
    ax.scatter(xs, ys, s=31, c=colors, lw=0, zorder=3, clip_on=False)

    ax.set_xticks(xticks)
    ax.set_yticks(chrom_mid)
    ax.set_yticklabels(chrom_labels)
    ax.tick_params(axis='x', direction='in', top=True, bottom=False, length=5, width=0.9, pad=6, color='#333333')
    ax.tick_params(axis='y', direction='in', left=True, right=True, length=5, width=0.9, pad=label_gap,
                   color='#333333')
    for label in ax.get_xticklabels() + ax.get_yticklabels():
        label.set_fontsize(16.5)
        label.set_stretch('condensed')
    for side in ax.spines.values():
        side.set_color('#444444')
        side.set_linewidth(1.3)
    ax.spines['bottom'].set_color('#888888')
    ax.set_xlabel(xlabel, fontsize=15, stretch='condensed', labelpad=3)

    span = xlim[1] - xlim[0]
    for name, color, x, y, y_label in genes:
        frac = (x - xlim[0]) / span
        ax.plot([frac, 1, 1.04], [y, y, y_label], transform=edge, color='black', lw=0.9, zorder=4, clip_on=False)
        ax.text(1.048, y_label, name, transform=edge, color=color, style='italic', fontsize=11.6,
                va='center', ha='left', clip_on=False)


fig = plt.figure(figsize=(10.5, 8.62), dpi=100)
W, H = 1050.0, 862.0
rects = [(62, 272), (407, 617), (752, 963)]
axes = [fig.add_axes([l / W, 1 - 806 / H, (r - l) / W, (806 - 53) / H]) for l, r in rects]

jet = plt.get_cmap('jet')

mut_x, mut_y = np.array(mut_vals, float), np.array(mut_pos, float)
draw_panel(axes[0], mut_x, mut_y, '#6b0000', (2.2, 25), [5, 10, 15, 20, 25], genes_a, 'Mutations (%)', 5)
axes[0].set_ylabel('Chromosome', fontsize=15, stretch='condensed', labelpad=7)

amp_x, amp_y = flatten(amp_pos + amp_core_pos, amp_vals + amp_core_vals)
amp_scale = np.interp(amp_x, [-13.85, -12.4, -11.8, -10.4, -8.3, -6.4, 0], [1, 0.98, 0.875, 0.625, 0.39, 0.125, 0])
draw_panel(axes[1], amp_x, amp_y, jet(amp_scale), (-13.85, 0), [-12, -10, -8, -6, -4, -2], genes_b,
           'Amplification/mutations', 4)

del_x, del_y = flatten(del_pos + del_core_pos, del_vals + del_core_vals)
del_scale = np.interp(del_x, [-10, -9.6, -8.77, -7.6, -5.5, -4.4, 0], [1, 0.93, 0.875, 0.65, 0.39, 0.125, 0])
draw_panel(axes[2], del_x, del_y, jet(del_scale), (-10, 0), [-10, -5], genes_c, 'Deletion/mutations', 4)

for letter, x in zip('abc', [24, 364, 706]):
    fig.text(x / W, 1 - 23 / H, letter, fontsize=20, fontweight='bold', family='Liberation Sans')

fig.savefig('out.png', dpi=100)
